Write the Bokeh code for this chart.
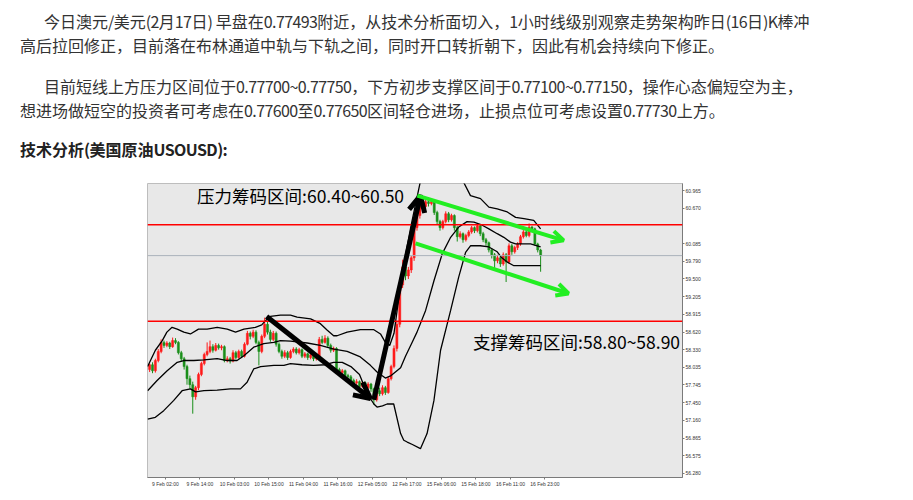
import re
from bokeh.plotting import figure
from bokeh.models import (Div, Spacer, Span, Label, Arrow, OpenHead, FixedTicker,
                          PrintfTickFormatter, ColumnDataSource, Range1d)
from bokeh.layouts import column, row
from bokeh.embed import file_html
from bokeh.resources import INLINE

# ---------------- text ----------------
para1 = ["今日澳元/美元(2月17日) 早盘在0.77493附近，从技术分析面切入，1小时线级别观察走势架构昨日(16日)K棒冲",
         "高后拉回修正，目前落在布林通道中轨与下轨之间，同时开口转折朝下，因此有机会持续向下修正。"]
para2 = ["目前短线上方压力区间位于0.77700~0.77750，下方初步支撑区间于0.77100~0.77150，操作心态偏短空为主，",
         "想进场做短空的投资者可考虑在0.77600至0.77650区间轻仓进场，止损点位可考虑设置0.77730上方。"]
heading = "技术分析(美国原油USOUSD):"

# ---------------- chart data (hourly bars, index 0 = 9 Feb 02:00) ----------------
bar_idx = list(range(-1, 136))
opens = [58.00, 58.08, 57.98, 58.15, 58.30, 58.45, 58.40, 58.44, 58.38, 58.48,
         58.45, 58.28, 58.18, 58.05, 57.85, 57.75, 57.55, 57.70, 57.92, 58.10,
         58.25, 58.30, 58.38, 58.32, 58.40, 58.36, 58.38, 58.15, 58.18, 58.14,
         58.28, 58.20, 58.30, 58.22, 58.42, 58.60, 58.55, 58.62, 58.45, 58.30,
         58.55, 58.75, 58.62, 58.50, 58.60, 58.42, 58.30, 58.22, 58.28, 58.20,
         58.30, 58.34, 58.28, 58.33, 58.22, 58.26, 58.20, 58.24, 58.18, 58.22,
         58.50, 58.45, 58.52, 58.40, 58.32, 58.35, 58.00, 57.95, 57.98, 57.90,
         57.88, 57.82, 57.78, 57.80, 57.72, 57.78, 57.70, 57.76, 57.68, 57.50,
         57.65, 57.60, 57.70, 57.62, 57.85, 58.05, 58.35, 58.75, 59.40, 59.70,
         59.55, 59.65, 59.85, 60.35, 60.55, 60.72, 60.70, 60.78, 60.75, 60.78,
         60.60, 60.45, 60.35, 60.45, 60.58, 60.48, 60.55, 60.35, 60.20, 60.25,
         60.15, 60.22, 60.28, 60.35, 60.30, 60.38, 60.25, 60.15, 60.10, 59.98,
         59.90, 59.80, 59.85, 59.75, 59.90, 59.78, 60.05, 59.95, 60.02, 60.08,
         60.20, 60.28, 60.22, 60.36, 60.33, 60.08, 59.98]
highs = [58.10, 58.12, 58.18, 58.34, 58.50, 58.48, 58.47, 58.46, 58.53, 58.52,
         58.47, 58.31, 58.21, 58.08, 57.90, 57.80, 57.73, 57.95, 58.13, 58.28,
         58.45, 58.48, 58.42, 58.44, 58.43, 58.41, 58.40, 58.22, 58.21, 58.32,
         58.31, 58.33, 58.33, 58.45, 58.64, 58.63, 58.66, 58.65, 58.48, 58.58,
         58.86, 58.80, 58.66, 58.64, 58.63, 58.45, 58.33, 58.32, 58.31, 58.33,
         58.37, 58.37, 58.36, 58.35, 58.29, 58.28, 58.27, 58.26, 58.25, 58.54,
         58.56, 58.57, 58.55, 58.43, 58.38, 58.37, 58.03, 58.01, 58.00, 57.93,
         57.91, 57.85, 57.84, 57.82, 57.81, 57.80, 57.79, 57.78, 57.70, 57.68,
         57.70, 57.74, 57.73, 57.88, 58.08, 58.40, 58.80, 59.45, 59.82, 59.74,
         59.70, 59.88, 60.38, 60.60, 60.78, 60.76, 60.82, 60.81, 60.84, 60.80,
         60.63, 60.48, 60.48, 60.62, 60.61, 60.58, 60.57, 60.38, 60.29, 60.27,
         60.25, 60.31, 60.38, 60.37, 60.41, 60.40, 60.28, 60.18, 60.12, 60.01,
         59.93, 59.90, 59.88, 59.94, 59.93, 60.09, 60.08, 60.05, 60.11, 60.23,
         60.31, 60.30, 60.42, 60.38, 60.35, 60.10, 60.00]
lows = [57.96, 57.94, 57.95, 58.12, 58.27, 58.36, 58.37, 58.34, 58.36, 58.42,
        58.25, 58.14, 58.00, 57.75, 57.68, 57.27, 57.50, 57.66, 57.89, 58.07,
        58.22, 58.27, 58.28, 58.30, 58.33, 58.32, 58.12, 58.12, 58.10, 58.12,
        58.17, 58.18, 58.19, 58.20, 58.40, 58.50, 58.52, 58.42, 58.07, 58.27,
        58.52, 58.58, 58.46, 58.47, 58.38, 58.27, 58.18, 58.19, 58.16, 58.18,
        58.27, 58.25, 58.25, 58.19, 58.19, 58.16, 58.17, 58.14, 58.15, 58.20,
        58.42, 58.43, 58.37, 58.28, 58.29, 57.97, 57.91, 57.92, 57.87, 57.84,
        57.79, 57.74, 57.75, 57.69, 57.70, 57.66, 57.67, 57.63, 57.42, 57.47,
        57.56, 57.57, 57.58, 57.60, 57.82, 58.02, 58.30, 58.70, 59.35, 59.48,
        59.50, 59.60, 59.80, 60.30, 60.50, 60.62, 60.66, 60.70, 60.72, 60.56,
        60.40, 60.30, 60.32, 60.42, 60.44, 60.45, 60.30, 60.12, 60.17, 60.10,
        60.12, 60.19, 60.25, 60.26, 60.27, 60.21, 60.11, 60.05, 59.94, 59.84,
        59.65, 59.76, 59.70, 59.72, 59.45, 59.75, 59.90, 59.92, 59.98, 60.05,
        60.17, 60.19, 60.19, 60.30, 60.05, 59.94, 59.62]
closes = [58.08, 57.98, 58.15, 58.30, 58.45, 58.40, 58.44, 58.38, 58.48, 58.45,
          58.28, 58.18, 58.05, 57.85, 57.75, 57.55, 57.70, 57.92, 58.10, 58.25,
          58.30, 58.38, 58.32, 58.40, 58.36, 58.38, 58.15, 58.18, 58.14, 58.28,
          58.20, 58.30, 58.22, 58.42, 58.60, 58.55, 58.62, 58.45, 58.30, 58.55,
          58.75, 58.62, 58.50, 58.60, 58.42, 58.30, 58.22, 58.28, 58.20, 58.30,
          58.34, 58.28, 58.33, 58.22, 58.26, 58.20, 58.24, 58.18, 58.22, 58.50,
          58.45, 58.52, 58.40, 58.32, 58.35, 58.00, 57.95, 57.98, 57.90, 57.88,
          57.82, 57.78, 57.80, 57.72, 57.78, 57.70, 57.76, 57.68, 57.50, 57.65,
          57.60, 57.70, 57.62, 57.85, 58.05, 58.35, 58.75, 59.40, 59.70, 59.55,
          59.65, 59.85, 60.35, 60.55, 60.72, 60.70, 60.78, 60.75, 60.78, 60.60,
          60.45, 60.35, 60.45, 60.58, 60.48, 60.55, 60.35, 60.20, 60.25, 60.15,
          60.22, 60.28, 60.35, 60.30, 60.38, 60.25, 60.15, 60.10, 59.98, 59.90,
          59.80, 59.85, 59.75, 59.90, 59.78, 60.05, 59.95, 60.02, 60.08, 60.20,
          60.28, 60.22, 60.36, 60.33, 60.08, 59.98, 59.887]

# Bollinger bands
upper_x = [-1.7, 0, 1, 3.4, 5, 6.8, 8.6, 10.9, 13.2, 16, 19, 22.5, 26, 28.9, 31.8, 35.8,
           38, 39.3, 41, 44.5, 48, 50.3, 55, 58.4, 60.8, 63, 64.2, 67.7, 72.3, 77, 79.3,
           81, 82.5, 84, 86, 88, 90, 92, 94, 96, 100, 104, 106, 107.7, 110.6, 114.1, 117,
           119.9, 123.4, 126.3, 129.2, 132.6, 135]
upper_y = [58.05, 58.22, 58.32, 58.48, 58.62, 58.70, 58.67, 58.62, 58.59, 58.67, 58.67,
           58.70, 58.67, 58.62, 58.67, 58.70, 58.74, 58.81, 58.88, 58.90, 58.90, 58.87,
           58.84, 58.76, 58.65, 58.56, 58.56, 58.62, 58.66, 58.66, 58.59, 58.45, 58.40,
           58.60, 59.30, 59.90, 60.40, 60.85, 61.30, 61.80, 62.20, 61.90, 61.50, 61.15,
           60.88, 60.83, 60.69, 60.66, 60.61, 60.52, 60.50, 60.47, 60.33]
middle_x = [-1.7, 1.6, 5.1, 8.6, 10.9, 14.4, 17.9, 22.5, 26, 29.4, 31.8, 35.2, 38.7, 42.2,
            44.5, 48, 53.8, 58.4, 63.1, 67.7, 72.3, 75.8, 78.1, 81, 83, 86.3, 88, 90, 92,
            95, 97.9, 100.8, 103.7, 106.5, 109.4, 111.8, 114.7, 117, 119.9, 122.2, 124.5,
            126.3, 129.2, 131.5, 133.8, 135]
middle_y = [57.65, 57.82, 57.98, 58.12, 58.15, 58.15, 58.16, 58.18, 58.15, 58.15, 58.23,
            58.37, 58.43, 58.45, 58.48, 58.47, 58.44, 58.40, 58.34, 58.30, 58.21, 58.07,
            57.96, 57.86, 57.90, 58.03, 58.22, 58.42, 58.62, 58.98, 59.47, 59.92, 60.19,
            60.36, 60.45, 60.44, 60.39, 60.33, 60.25, 60.19, 60.11, 60.08, 60.08, 60.08,
            60.05, 60.03]
lower_x = [-1.7, 1, 3.9, 7.4, 10.3, 13.2, 15, 17.9, 22.5, 27.1, 30.6, 32.9, 35.2, 37.6,
           42.2, 45.7, 48, 52, 56, 60, 63, 66, 69, 72, 74.7, 77, 78.1, 80, 81.6, 83.9,
           86.3, 87.4, 88.6, 90.4, 93.2, 95.5, 97.9, 100.2, 103.7, 106.5, 108.9, 110.6,
           114, 117, 119.9, 121.5, 123.4, 125.7, 130, 135]
lower_y = [57.18, 57.21, 57.32, 57.49, 57.65, 57.68, 57.63, 57.65, 57.66, 57.68, 57.68,
           57.79, 58.01, 58.05, 58.07, 58.07, 58.10, 58.08, 58.07, 58.08, 58.12, 58.12,
           58.05, 57.92, 57.60, 57.43, 57.38, 57.40, 57.43, 57.43, 56.94, 56.83, 56.80,
           56.76, 56.69, 56.94, 57.49, 58.32, 58.98, 59.53, 59.94, 60.05, 60.05, 60.03,
           59.95, 59.85, 59.78, 59.72, 59.72, 59.72]

price_ticks = [56.280, 56.575, 56.865, 57.160, 57.450, 57.745, 58.035, 58.330, 58.620,
               58.915, 59.205, 59.500, 59.790, 60.085, 60.670, 60.965]
date_labels = ["9 Feb 02:00", "9 Feb 14:00", "10 Feb 03:00", "10 Feb 15:00", "11 Feb 04:00",
               "11 Feb 16:00", "12 Feb 05:00", "12 Feb 17:00", "15 Feb 06:00", "15 Feb 18:00",
               "16 Feb 11:00", "16 Feb 23:00"]
resistance_level = 60.40
support_level = 58.80
last_price = 59.887
resistance_text = "压力筹码区间:60.40~60.50"
support_text = "支撑筹码区间:58.80~58.90"

# ---------------- page text ----------------
FONT = "'Noto Sans CJK SC', 'Noto Sans', sans-serif"


def tighten(s):
    # Latin / digit runs are set slightly tighter, as in the original page font
    return re.sub(r"([0-9A-Za-z.~/()]+)", r'<span style="letter-spacing:-0.6px">\1</span>', s)


line_style = "white-space:nowrap;height:24px;line-height:24px;"
html = (
    f"<div style=\"font-family:{FONT};font-size:16px;color:#333;padding:9px 0 0 20px;\">"
    f"<div style=\"{line_style}padding-left:24px;\">{tighten(para1[0])}</div>"
    f"<div style=\"{line_style}\">{tighten(para1[1])}</div>"
    f"<div style=\"{line_style}padding-left:24px;margin-top:17px;\">{tighten(para2[0])}</div>"
    f"<div style=\"{line_style}\">{tighten(para2[1])}</div>"
    f"<div style=\"{line_style}margin-top:15px;font-weight:bold;color:#222;\">{tighten(heading)}</div>"
    "</div>"
)
text_div = Div(text=html, width=905, height=182, margin=(0, 0, 0, 0))

# ---------------- chart ----------------
RED = "#ff1a1a"
GREEN = "#1a8f1a"
up = [c >= o for o, c in zip(opens, closes)]
src = ColumnDataSource(dict(
    x=bar_idx, o=opens, h=highs, l=lows, c=closes,
    top=[max(o, c) for o, c in zip(opens, closes)],
    bottom=[min(o, c) for o, c in zip(opens, closes)],
    color=[RED if u else GREEN for u in up],
))

p = figure(frame_width=535, frame_height=294,
           x_range=Range1d(-1.74, 184.35), y_range=Range1d(56.213, 61.081),
           y_axis_location="right", output_backend="svg", toolbar_location=None,
           min_border_left=1, min_border_top=1, min_border_right=0, min_border_bottom=0,
           background_fill_color="#e8e8e8", border_fill_color="white",
           outline_line_color="#bdbdbd")
p.grid.visible = False

p.segment(x0="x", y0="l", x1="x", y1="h", source=src, color="color", line_width=1)
p.vbar(x="x", width=0.72, top="top", bottom="bottom", source=src,
       fill_color="color", line_color="color", line_width=0.5)

for bx, by in ((upper_x, upper_y), (middle_x, middle_y), (lower_x, lower_y)):
    p.line(bx, by, line_color="black", line_width=1.3)

p.add_layout(Span(location=last_price, dimension="width", line_color="#aab2bb", line_width=1))
p.add_layout(Span(location=resistance_level, dimension="width", line_color="#ff0000", line_width=1.5))
p.add_layout(Span(location=support_level, dimension="width", line_color="#ff0000", line_width=1.5))

# black trend arrows
p.add_layout(Arrow(x_start=39.7, y_start=58.88, x_end=75.8, y_end=57.52,
                   line_color="black", line_width=5,
                   end=OpenHead(size=16, line_color="black", line_width=5)))
p.add_layout(Arrow(x_start=77.0, y_start=57.50, x_end=93.2, y_end=60.88,
                   line_color="black", line_width=5,
                   end=OpenHead(size=16, line_color="black", line_width=5)))
# green channel arrows
GRN = "#22ee22"
p.add_layout(Arrow(x_start=92.1, y_start=60.88, x_end=143.0, y_end=60.14,
                   line_color=GRN, line_width=4,
                   end=OpenHead(size=12, line_color=GRN, line_width=4)))
p.add_layout(Arrow(x_start=91.5, y_start=60.09, x_end=144.7, y_end=59.26,
                   line_color=GRN, line_width=4,
                   end=OpenHead(size=12, line_color=GRN, line_width=4)))

p.add_layout(Label(x=15.5, y=60.88, text=resistance_text, text_font="Noto Sans CJK SC",
                   text_font_size="17.5px", text_color="black", text_baseline="middle"))
p.add_layout(Label(x=111.5, y=58.47, text=support_text, text_font="Noto Sans CJK SC",
                   text_font_size="17.5px", text_color="black", text_baseline="middle"))

# axes
tick_pos = [i * 12 + 4.5 for i in range(len(date_labels))]
p.xaxis.ticker = FixedTicker(ticks=tick_pos)
p.xaxis.major_label_overrides = {t: lab for t, lab in zip(tick_pos, date_labels)}
p.yaxis.ticker = FixedTicker(ticks=price_ticks)
p.yaxis.formatter = PrintfTickFormatter(format="%.3f")
for ax in (p.xaxis[0], p.yaxis[0]):
    ax.axis_line_color = "#7a7a7a"
    ax.major_tick_line_color = "#7a7a7a"
    ax.minor_tick_line_color = None
    ax.major_tick_in = 0
    ax.major_tick_out = 2
    ax.major_label_standoff = 1
    ax.major_label_text_font = "Liberation Sans"
    ax.major_label_text_font_size = "5px"
    ax.major_label_text_color = "#333333"

# price boxes on the right scale
for lvl, txt, bg in ((resistance_level, "60.400", "#ff0000"),
                     (last_price, "59.887", "#000000"),
                     (support_level, "58.801", "#ff0000")):
    p.add_layout(Label(x=184.6, y=lvl, text=txt, text_font="Liberation Sans",
                       text_font_size="5px", text_color="white", text_baseline="middle",
                       background_fill_color=bg))

chart_row = row(Spacer(width=146, height=304), p, spacing=0)
layout = column(text_div, chart_row, spacing=0)

open("out.html", "w").write(file_html(layout, INLINE))
